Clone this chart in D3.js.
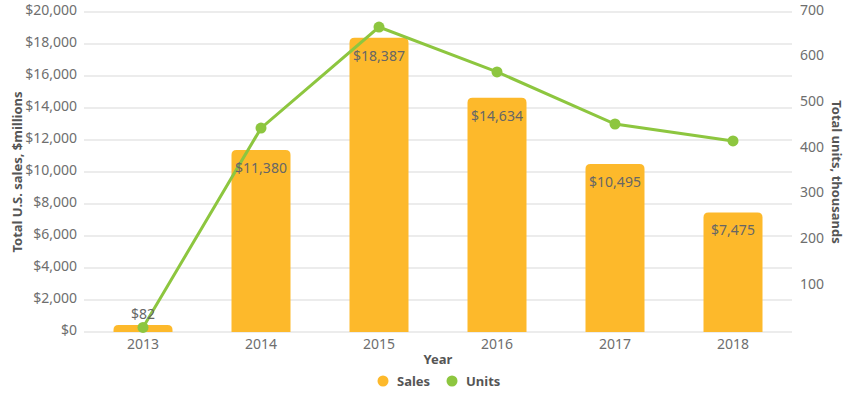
<!DOCTYPE html>
<html>
<head>
<meta charset="utf-8">
<script src="https://cdn.jsdelivr.net/npm/d3@7"></script>
<style>
  body { margin: 0; background: #fff; }
  text { font-family: "Noto Sans", sans-serif; }
</style>
</head>
<body>
<div id="chart"></div>
<script>
const years = ["2013", "2014", "2015", "2016", "2017", "2018"],
  sales = [82, 11380, 18387, 14634, 10495, 7475],
  units = [10, 446, 667, 569, 455, 418],
  salesTicks = [0, 2000, 4000, 6000, 8000, 10000, 12000, 14000, 16000, 18000, 20000],
  unitTicks = [100, 200, 300, 400, 500, 600, 700],
  legendItems = ["Sales", "Units"]

const width = 850, height = 395,
  margin = { top: 12, right: 58, bottom: 63, left: 84 },
  barColor = "#FDB92B",
  lineColor = "#8DC63F",
  tickColor = "#6e6e6e",
  titleColor = "#555"

var svg = d3.select("#chart").append("svg")
  .attr("width", width)
  .attr("height", height)

var x = d3.scaleBand().domain(years).range([margin.left, width - margin.right])
  .paddingInner(0.5).paddingOuter(0.25)
var yL = d3.scaleLinear().domain([0, 20000]).range([height - margin.bottom, margin.top])
var yR = d3.scaleLinear().domain([0, 700]).range([height - margin.bottom, margin.top])

// gridlines
svg.append("g").selectAll("line")
  .data(salesTicks)
  .enter().append("line")
  .attr("x1", margin.left).attr("x2", width - margin.right)
  .attr("y1", d => yL(d)).attr("y2", d => yL(d))
  .attr("stroke", "#d9d9d9").attr("stroke-width", 1)

// left axis
var leftAxis = svg.append("g")
  .attr("transform", "translate(" + margin.left + ",0)")
  .call(d3.axisLeft(yL).tickValues(salesTicks).tickSize(0).tickPadding(7).tickFormat(d => "$" + d3.format(",")(d)))
leftAxis.select(".domain").remove()
leftAxis.selectAll("text").attr("fill", tickColor).attr("font-size", "14px").attr("dy", "0.15em")

// right axis
var rightAxis = svg.append("g")
  .attr("transform", "translate(" + (width - margin.right) + ",0)")
  .call(d3.axisRight(yR).tickValues(unitTicks).tickSize(0).tickPadding(8))
rightAxis.select(".domain").remove()
rightAxis.selectAll("text").attr("fill", tickColor).attr("font-size", "14px").attr("dy", "0.15em")

// bottom axis
var bottomAxis = svg.append("g")
  .attr("transform", "translate(0," + (height - margin.bottom) + ")")
  .call(d3.axisBottom(x).tickSize(0).tickPadding(7))
bottomAxis.select(".domain").remove()
bottomAxis.selectAll("text").attr("fill", tickColor).attr("font-size", "14px")

// bars, rounded top corners
var r = 5
svg.append("g").selectAll("path")
  .data(years)
  .enter().append("path")
  .attr("fill", barColor)
  .attr("d", (d, i) => {
    const x0 = x(d), w = x.bandwidth(), y0 = yL(0)
    const h = Math.max(y0 - yL(sales[i]), 7)
    const top = y0 - h
    return "M" + x0 + "," + y0 +
      "V" + (top + r) +
      "Q" + x0 + "," + top + " " + (x0 + r) + "," + top +
      "H" + (x0 + w - r) +
      "Q" + (x0 + w) + "," + top + " " + (x0 + w) + "," + (top + r) +
      "V" + y0 + "Z"
  })

// line + points
var line = d3.line()
  .x((d, i) => x(years[i]) + x.bandwidth() / 2)
  .y(d => yR(d))
svg.append("path")
  .datum(units)
  .attr("d", line)
  .attr("fill", "none")
  .attr("stroke", lineColor)
  .attr("stroke-width", 3)
svg.append("g").selectAll("circle")
  .data(units)
  .enter().append("circle")
  .attr("cx", (d, i) => x(years[i]) + x.bandwidth() / 2)
  .attr("cy", d => yR(d))
  .attr("r", 5.5)
  .attr("fill", lineColor)

// bar labels
svg.append("g").selectAll("text")
  .data(years)
  .enter().append("text")
  .attr("x", d => x(d) + x.bandwidth() / 2)
  .attr("y", (d, i) => sales[i] < 1000 ? yL(0) - 13 : yL(sales[i]) + 23)
  .attr("text-anchor", "middle")
  .attr("fill", "#666")
  .attr("font-size", "14px")
  .text((d, i) => "$" + d3.format(",")(sales[i]))

// axis titles
svg.append("text")
  .attr("transform", "translate(22," + ((margin.top + height - margin.bottom) / 2) + ") rotate(-90)")
  .attr("text-anchor", "middle")
  .attr("fill", titleColor)
  .attr("font-size", "13px")
  .attr("font-weight", "bold")
  .text("Total U.S. sales, $millions")

svg.append("text")
  .attr("transform", "translate(832," + ((margin.top + height - margin.bottom) / 2) + ") rotate(90)")
  .attr("text-anchor", "middle")
  .attr("fill", titleColor)
  .attr("font-size", "13px")
  .attr("font-weight", "bold")
  .text("Total units, thousands")

svg.append("text")
  .attr("x", (margin.left + width - margin.right) / 2)
  .attr("y", 364)
  .attr("text-anchor", "middle")
  .attr("fill", titleColor)
  .attr("font-size", "13px")
  .attr("font-weight", "bold")
  .text("Year")

// legend
var legendColors = [barColor, lineColor]
var legendX = [383, 452]
var lg = svg.append("g").selectAll("g")
  .data(legendItems)
  .enter().append("g")
  .attr("transform", (d, i) => "translate(" + legendX[i] + ",381)")
lg.append("circle").attr("r", 5.5).attr("fill", (d, i) => legendColors[i])
lg.append("text")
  .attr("x", 14)
  .attr("y", 4.5)
  .attr("fill", titleColor)
  .attr("font-size", "13px")
  .attr("font-weight", "bold")
  .text(d => d)
</script>
</body>
</html>
